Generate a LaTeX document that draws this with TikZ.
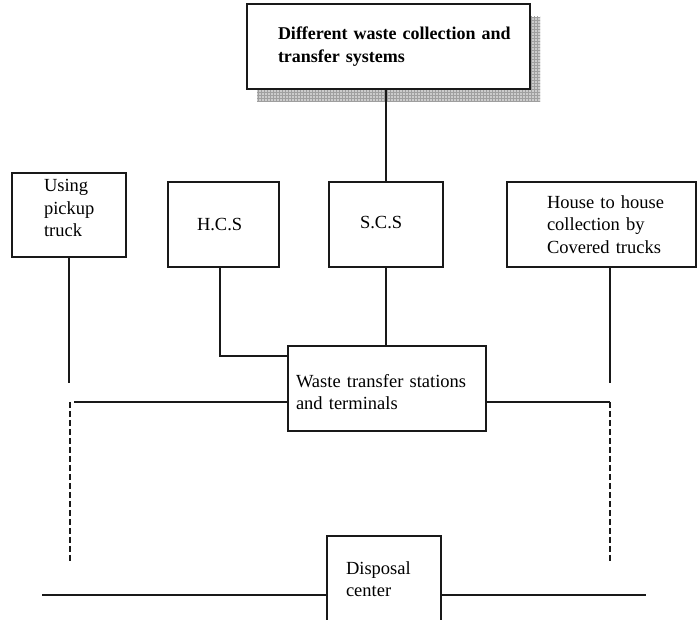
\documentclass[tikz,border=0pt]{standalone}
\usepackage{fontspec}
\setmainfont{Liberation Serif}
\usetikzlibrary{patterns}

\tikzset{
  box/.style={draw=black!90, line width=1.3pt, fill=white, inner sep=0pt,
              align=left, font=\fontsize{18.5}{22.5}\selectfont},
  link/.style={draw=black!90, line width=1.3pt},
  dashlink/.style={draw=black!90, line width=1.3pt, dash pattern=on 6pt off 3pt},
}

\begin{document}
\begin{tikzpicture}[x=1pt,y=-1pt]
\useasboundingbox (0,0) rectangle (697,620);

% hatched drop shadow behind the title box
\fill[gray!40] (257,17) rectangle (540,102);
\path[pattern=grid, pattern color=gray!75] (257,17) rectangle (540,102);

% boxes (text height/depth nudge the text block inside its frame)
\node[box, minimum width=283, minimum height=85, text width=221,
      font=\fontsize{18}{22.5}\selectfont\bfseries] (top) at (388.5,46.5)
  {\mbox{Different waste collection and}\\transfer systems};
\node[box, minimum width=114, minimum height=84, text width=50, text depth=59pt] (pickup) at (69,215)
  {Using\\pickup\\truck};
\node[box, minimum width=111, minimum height=85, text width=53] (hcs) at (223.5,224.5)
  {H.C.S};
\node[box, minimum width=114, minimum height=85, text width=52, text depth=4pt] (scs) at (386,224.5)
  {S.C.S};
\node[box, minimum width=189, minimum height=85, text width=109] (house) at (601.5,224.5)
  {\mbox{House to house}\\\mbox{collection by}\\\mbox{Covered trucks}};
\node[box, minimum width=198, minimum height=85, text width=182, text height=20pt] (waste) at (387,388.5)
  {Waste transfer stations\\and terminals};
\node[box, minimum width=114, minimum height=86, text width=76] (disposal) at (384,579)
  {Disposal\\center};

% free ends of the open connectors
\coordinate (pickEnd)  at (70,383);
\coordinate (houseEnd) at (610,383);
\coordinate (leftTop)  at (70,402);
\coordinate (leftBot)  at (70,561);
\coordinate (rightTop) at (610,402);
\coordinate (rightBot) at (610,561);
\coordinate (baseL)    at (42,595);
\coordinate (baseR)    at (646,595);

% connectors
\draw[link] (top.south -| scs.north) -- (scs.north);
\draw[link] (pickup.south) -- (pickup.south |- pickEnd);
\draw[link] ([xshift=-3.5pt]hcs.south) |- ([yshift=32.5pt]waste.west);
\draw[link] (scs.south) -- (scs.south |- waste.north);
\draw[link] (houseEnd |- house.south) -- (houseEnd);

\draw[link] ([yshift=-13.5pt]waste.west) -- ([xshift=4pt]leftTop);
\draw[link] ([yshift=-13.5pt]waste.east) -- (rightTop);
\draw[dashlink] (leftTop) -- (leftBot);
\draw[dashlink] (rightTop) -- (rightBot);

\draw[link] (baseL) -- (baseL -| disposal.west);
\draw[link] (disposal.east |- baseR) -- (baseR);
\end{tikzpicture}
\end{document}
